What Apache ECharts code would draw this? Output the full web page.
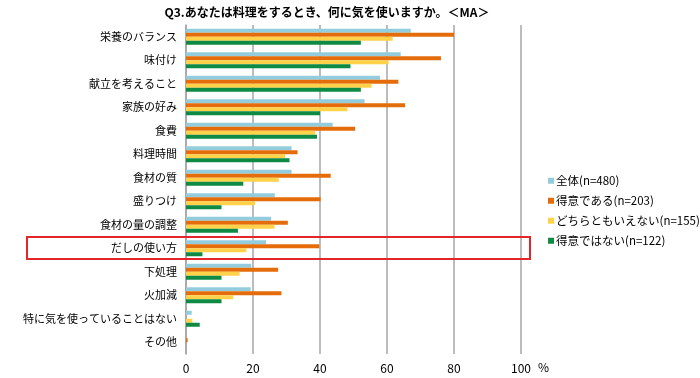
<!DOCTYPE html>
<html>
<head>
<meta charset="utf-8">
<script src="https://cdn.jsdelivr.net/npm/echarts@6/dist/echarts.min.js"></script>
<style>
  html, body { margin: 0; padding: 0; background: #fff; }
  #chart { width: 700px; height: 378px; }
</style>
</head>
<body>
<div id="chart"></div>
<script>
// categories, top to bottom
const categories = [
  '栄養のバランス', '味付け', '献立を考えること', '家族の好み', '食費',
  '料理時間', '食材の質', '盛りつけ', '食材の量の調整', 'だしの使い方',
  '下処理', '火加減', '特に気を使っていることはない', 'その他'
]
const xTicks = [0, 20, 40, 60, 80, 100]

// series values (%)
const total = [67.1, 64.1, 57.9, 53.3, 43.8, 31.5, 31.5, 26.5, 25.4, 23.9, 19.5, 19.3, 1.7, 0]
const good = [80.0, 76.1, 63.4, 65.4, 50.5, 33.3, 43.2, 40.2, 30.4, 39.8, 27.5, 28.5, 0, 0.5]
const neither = [61.7, 60.5, 55.4, 48.2, 38.6, 29.6, 27.7, 20.6, 26.4, 18.0, 16.0, 14.1, 1.9, 0]
const notGood = [52.2, 49.1, 52.2, 40.0, 39.1, 30.9, 17.1, 10.6, 15.5, 4.9, 10.6, 10.6, 4.1, 0]

const seriesNames = ['全体(n=480)', '得意である(n=203)', 'どちらともいえない(n=155)', '得意ではない(n=122)']
const colors = ['#93CDDD', '#E46C0A', '#FFD24A', '#0E8A45']

const font = '"Noto Sans CJK JP", "Noto Sans", sans-serif'

const chart = echarts.init(document.getElementById('chart'))

const makeSeries = (name, data, i) => ({
  name: name,
  type: 'bar',
  data: data,
  barWidth: 4,
  barGap: '0%',
  barCategoryGap: '30%',
  itemStyle: { color: colors[i] },
  animation: false
})

chart.setOption({
  color: colors,
  textStyle: { fontFamily: font },
  title: {
    text: 'Q3.あなたは料理をするとき、何に気を使いますか。＜MA＞',
    left: 322,
    textAlign: 'center',
    top: 1,
    textStyle: { fontSize: 12, fontWeight: 'bold', color: '#000', fontFamily: font }
  },
  legend: {
    orient: 'vertical',
    left: 543,
    top: 170,
    itemWidth: 6,
    itemHeight: 6,
    itemGap: 8.5,
    icon: 'rect',
    textStyle: { fontSize: 11.5, color: '#000', fontFamily: font, padding: [0, 0, 0, -3] }
  },
  grid: { left: 186, right: 179, top: 25, bottom: 24, containLabel: false },
  xAxis: {
    type: 'value',
    min: xTicks[0],
    max: xTicks[xTicks.length - 1],
    interval: 20,
    axisLine: { show: false },
    axisTick: { show: false },
    axisLabel: { fontSize: 12, color: '#000', margin: 8, fontFamily: font },
    splitLine: { lineStyle: { color: '#A6A6A6', width: 1.5 } }
  },
  yAxis: {
    type: 'category',
    data: categories,
    inverse: true,
    axisLine: { show: true, lineStyle: { color: '#A6A6A6', width: 1.5 } },
    axisTick: { show: false },
    axisLabel: { fontSize: 11, color: '#000', margin: 9, fontFamily: font }
  },
  graphic: [
    {
      type: 'rect',
      shape: { x: 27, y: 237, width: 503, height: 22 },
      style: { fill: 'none', stroke: '#E3262B', lineWidth: 2 },
      z: 100
    },
    {
      type: 'text',
      left: 538,
      top: 361,
      style: { text: '%', fontSize: 12, fill: '#000', fontFamily: font }
    }
  ],
  series: [
    makeSeries(seriesNames[0], total, 0),
    makeSeries(seriesNames[1], good, 1),
    makeSeries(seriesNames[2], neither, 2),
    makeSeries(seriesNames[3], notGood, 3)
  ]
})
</script>
</body>
</html>
